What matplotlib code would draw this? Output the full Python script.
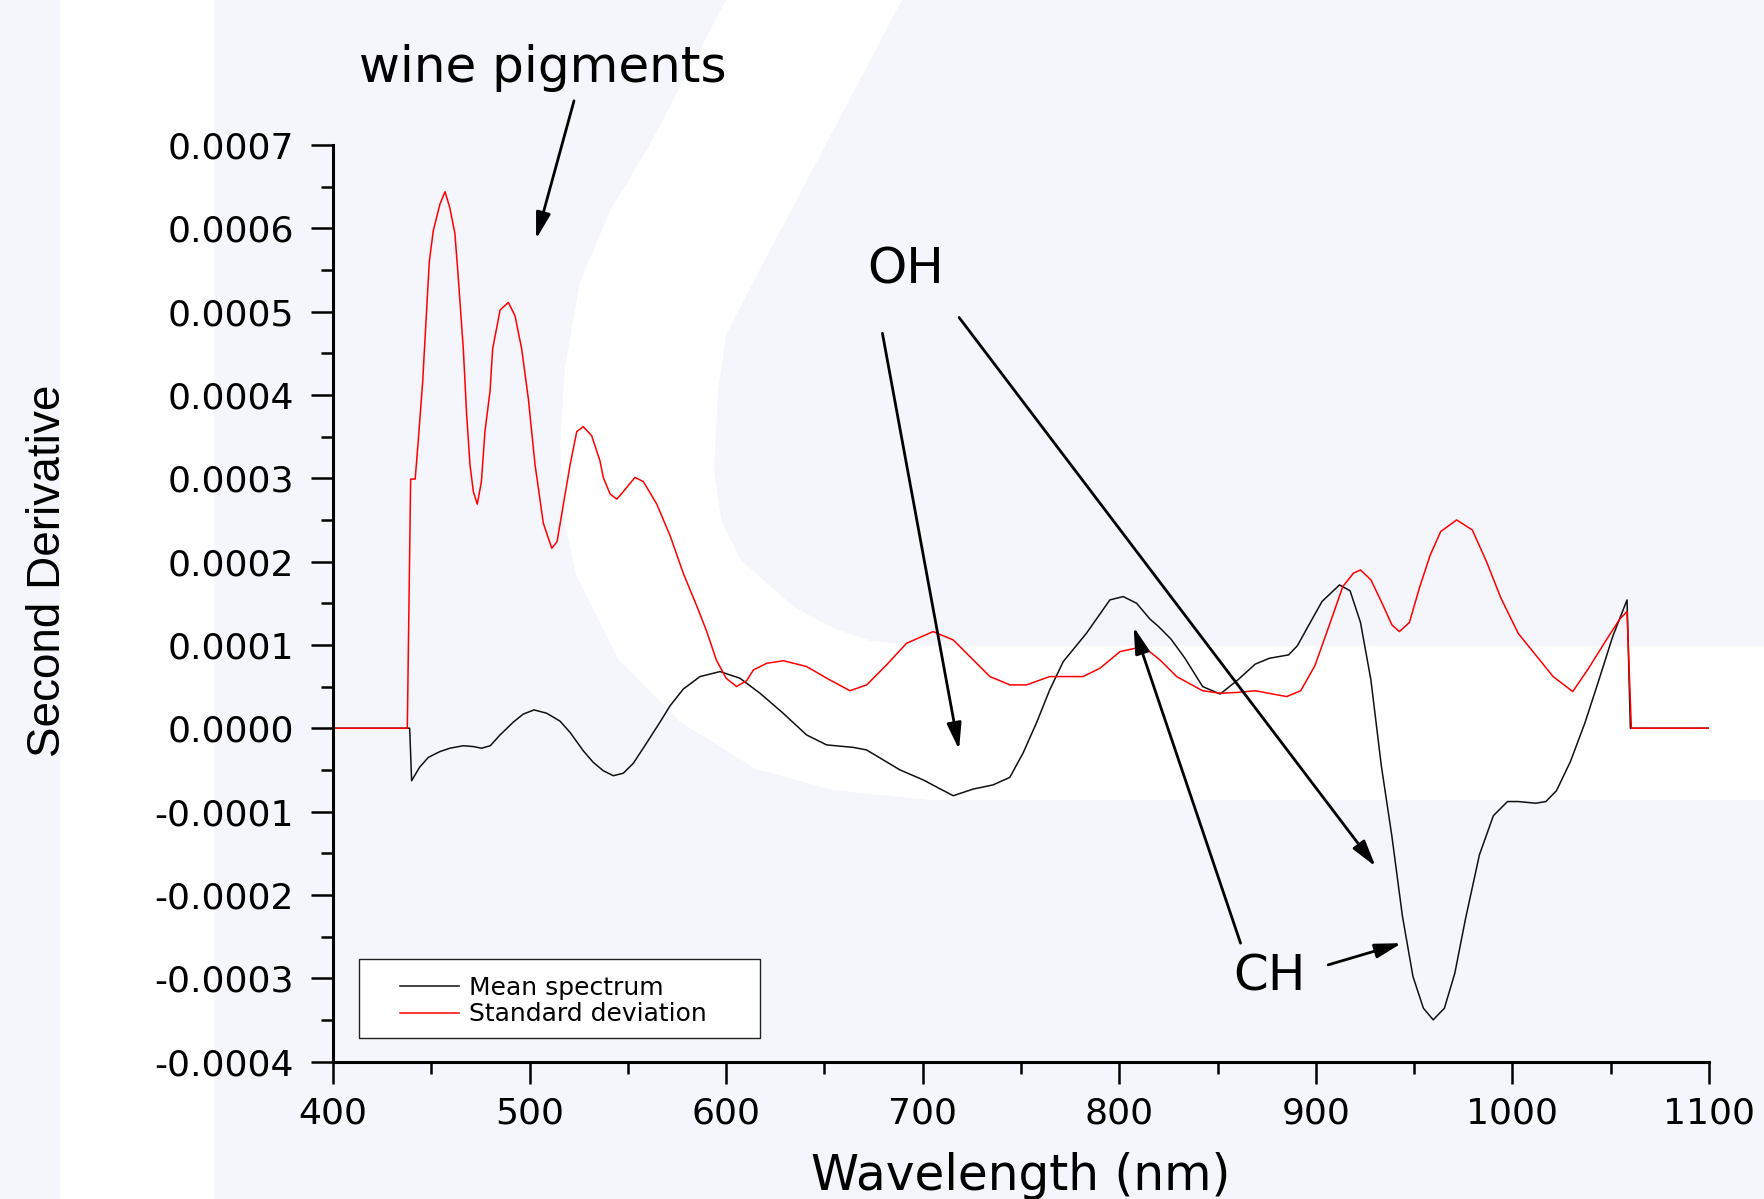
import numpy as np
import matplotlib
matplotlib.use("Agg")
import matplotlib.pyplot as plt
from matplotlib.patches import Polygon, Rectangle
from matplotlib.ticker import FixedLocator, MultipleLocator, FuncFormatter

# second derivative spectra (units of 1e-4)
mean_wl = [400, 439, 440, 444, 448.5, 454.4, 459.5, 466.3, 471.4, 475.6, 480, 485,
           491.8, 496.8, 502.3, 508.7, 515.5, 520.6, 527.3, 532.4, 537.5, 542.6,
           547.7, 552.8, 559.6, 566.4, 571.5, 578.2, 586.7, 596.9, 607, 617.2, 629,
           640.9, 651.1, 664.6, 671.4, 688.4, 700.2, 715.5, 725.7, 735.8, 744.3, 751,
           757.8, 764.6, 771.5, 783.3, 795.2, 802, 808.8, 815.6, 820, 826.3, 833.4,
           842.4, 851.3, 860.3, 869.2, 876.4, 886.1, 890.6, 896, 903.1, 912, 917.4,
           922.7, 928, 933.3, 938.7, 944, 949.4, 954.7, 959.7, 965.4, 970.7, 976.1,
           983.2, 990.3, 997.5, 1002.8, 1011.9, 1017, 1022.4, 1029.5, 1036.9, 1044,
           1051, 1058.3, 1060, 1100]
mean_val = [0, 0, -0.63, -0.47, -0.35, -0.28, -0.24, -0.21, -0.22, -0.24, -0.21, -0.08,
            0.075, 0.17, 0.22, 0.18, 0.085, -0.05, -0.27, -0.41, -0.51, -0.57,
            -0.54, -0.42, -0.175, 0.075, 0.27, 0.47, 0.62, 0.68, 0.60, 0.42, 0.18,
            -0.08, -0.20, -0.23, -0.26, -0.50, -0.62, -0.81, -0.73, -0.68, -0.59, -0.30,
            0.06, 0.46, 0.80, 1.14, 1.54, 1.58, 1.50, 1.31, 1.22, 1.07, 0.84,
            0.50, 0.41, 0.58, 0.77, 0.84, 0.88, 0.99, 1.22, 1.52, 1.72, 1.65,
            1.27, 0.58, -0.45, -1.30, -2.25, -2.98, -3.36, -3.50, -3.36, -2.94, -2.29,
            -1.52, -1.05, -0.88, -0.88, -0.90, -0.88, -0.75, -0.40, 0.065, 0.58,
            1.10, 1.54, 0, 0]

std_wl = [400, 437.8, 439.5, 441.8, 443.4, 445.6, 447.7, 449, 451, 454.4, 457, 459.5,
          462, 463.6, 466.3, 468, 469.7, 471.4, 473.4, 475.5, 477.3, 479.9, 481.2, 485,
          489.2, 492.6, 496, 499.4, 502.8, 507, 511.3, 514, 517, 520.6, 524, 527.3,
          531.6, 535.8, 537.5, 541, 544.4, 547.7, 553.6, 557.9, 564.7, 571.5, 578.2,
          585, 590, 595, 600, 605.3, 610.4, 613.9, 620.7, 629.2, 641, 651.2, 663,
          671.5, 681.6, 691.8, 705.3, 715.5, 725.7, 734.2, 744.4, 752.8, 764.6, 781.5,
          790.2, 800.4, 812.2, 820.7, 829.2, 842.4, 851.3, 860.3, 869.2, 878.1, 885.2,
          892.3, 899.5, 906.6, 913.7, 919.1, 922.7, 928, 933.3, 938.7, 942.5, 947.6,
          952.9, 958.2, 963.5, 971.6, 979.6, 986.8, 994, 1002.9, 1011.8, 1020.7,
          1030.7, 1038.5, 1047.5, 1054.6, 1058.3, 1060.5, 1100]
std_val = [0, 0, 2.99, 2.99, 3.46, 4.15, 5.05, 5.6, 5.97, 6.29, 6.44, 6.24,
           5.94, 5.45, 4.55, 3.76, 3.16, 2.84, 2.69, 2.96, 3.56, 4.05, 4.55, 5.02,
           5.11, 4.95, 4.55, 3.95, 3.16, 2.46, 2.16, 2.24, 2.66, 3.16, 3.56, 3.62,
           3.51, 3.21, 3.01, 2.81, 2.75, 2.84, 3.01, 2.96, 2.69, 2.31, 1.86,
           1.47, 1.17, 0.82, 0.60, 0.50, 0.57, 0.70, 0.78, 0.81, 0.74, 0.60, 0.45,
           0.52, 0.76, 1.02, 1.16, 1.06, 0.82, 0.62, 0.52, 0.52, 0.62, 0.62,
           0.72, 0.92, 0.98, 0.82, 0.62, 0.45, 0.42, 0.43, 0.45, 0.41, 0.38,
           0.45, 0.75, 1.22, 1.70, 1.86, 1.90, 1.78, 1.52, 1.24, 1.16, 1.27,
           1.70, 2.08, 2.36, 2.50, 2.38, 2.00, 1.57, 1.14, 0.88, 0.62,
           0.44, 0.71, 1.05, 1.31, 1.40, 0, 0]

series_labels = ["Mean spectrum", "Standard deviation"]
y_ticks = [-4, -3, -2, -1, 0, 1, 2, 3, 4, 5, 6, 7]
x_ticks = [400, 500, 600, 700, 800, 900, 1000, 1100]

bg_color = "#F5F6FB"
W, H = 1765, 1199
fig = plt.figure(figsize=(W / 100, H / 100), dpi=100, facecolor=bg_color)

# background decoration (pixel coordinates)
bg = fig.add_axes([0, 0, 1, 1], zorder=0)
bg.set_xlim(0, W)
bg.set_ylim(H, 0)
bg.axis("off")
bg.add_patch(Rectangle((60, 0), 154, H, color="white", lw=0))
band = [(726, 0), (649, 146), (611, 209), (580, 282), (565, 366), (560, 445),
        (565, 523), (576, 575), (618, 659), (680, 722), (756, 769), (833, 790),
        (928, 800), (W, 800), (W, 646), (928, 646), (871, 641), (833, 628),
        (794, 607), (741, 560), (722, 523), (714, 471), (718, 392), (726, 335),
        (756, 277), (902, 0)]
bg.add_patch(Polygon(band, closed=True, color="white", lw=0))

ax = fig.add_axes([333 / W, 1 - 1061.5 / H, 1376 / W, 916.5 / H], zorder=1)
ax.set_facecolor("none")

scale = 1e-4
ax.plot(mean_wl, np.array(mean_val) * scale, color="#111111", lw=1.1, label=series_labels[0])
ax.plot(std_wl, np.array(std_val) * scale, color="#FF0000", lw=1.1, label=series_labels[1])

ax.set_xlim(400, 1100)
ax.set_ylim(-0.0004, 0.0007)
for s in ["top", "right"]:
    ax.spines[s].set_visible(False)
for s in ["left", "bottom"]:
    ax.spines[s].set_linewidth(2.2)

ax.xaxis.set_major_locator(FixedLocator(x_ticks))
ax.xaxis.set_minor_locator(MultipleLocator(50))
ax.yaxis.set_major_locator(FixedLocator([t * scale for t in y_ticks]))
ax.yaxis.set_minor_locator(MultipleLocator(0.5 * scale))
ax.yaxis.set_major_formatter(FuncFormatter(lambda v, p: "%.4f" % (0.0 if abs(v) < 1e-12 else v)))
ax.tick_params(which="major", direction="out", length=16, width=1.8, labelsize=26, pad=12)
ax.tick_params(which="minor", direction="out", length=8.5, width=1.8)
ax.tick_params(axis="x", which="major", pad=9)

ax.set_xlabel("Wavelength (nm)", fontsize=35)
ax.xaxis.set_label_coords(0.5, -0.125)
ax.xaxis.label.set_verticalalignment("center")
ax.set_ylabel("Second Derivative", fontsize=33, family=["Liberation Sans", "DejaVu Sans"])
ax.yaxis.set_label_coords(-0.207, 0.535)
ax.yaxis.label.set_verticalalignment("center")

# legend with its own frame
ax.add_patch(Rectangle((0.0189, 0.0256), 0.2914, 0.0862, transform=ax.transAxes,
                       facecolor="white", edgecolor="#222222", lw=1.0, zorder=3))
leg = ax.legend(loc="center left", bbox_to_anchor=(0.0484, 0.066), frameon=False,
                fontsize=18, handlelength=2.39, handletextpad=0.4, labelspacing=0.1,
                borderpad=0, borderaxespad=0)
leg.set_zorder(4)

# annotations
arrow = dict(arrowstyle="-|>,head_length=0.8,head_width=0.22", color="black",
             lw=2, mutation_scale=20, shrinkA=0, shrinkB=0)
ax.text(506.6, 0.000793, "wine pigments", fontsize=36, ha="center", va="center")
ax.annotate("", xy=(503.3, 0.000587), xytext=(522.6, 0.000753),
            arrowprops=arrow, annotation_clip=False)
ax.text(691.5, 0.00055, "OH", fontsize=36, ha="center", va="center")
ax.annotate("", xy=(718.5, -0.0000257), xytext=(679.5, 0.000474), arrowprops=arrow)
ax.annotate("", xy=(930.4, -0.000166), xytext=(718.5, 0.000493), arrowprops=arrow)
ax.text(876.6, -0.000298, "CH", fontsize=36, ha="center", va="center")
ax.annotate("", xy=(807.3, 0.0001216), xytext=(861.7, -0.000258), arrowprops=arrow)
ax.annotate("", xy=(943.6, -0.000258), xytext=(906.3, -0.000284), arrowprops=arrow)

fig.savefig("out.png", dpi=100, facecolor=bg_color)
